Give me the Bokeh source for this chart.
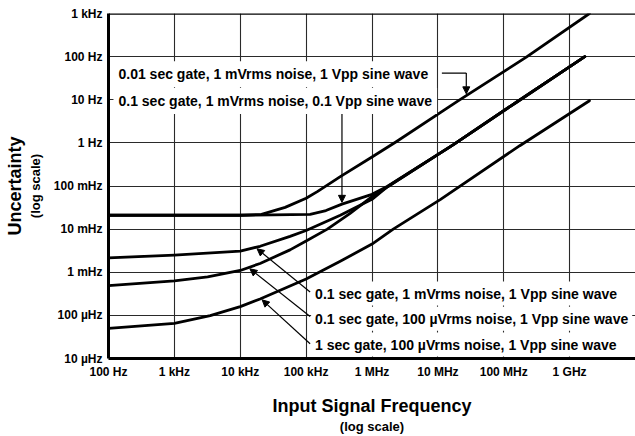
import numpy as np
from bokeh.plotting import figure
from bokeh.models import FixedTicker, Label, Arrow, NormalHead, Span, LogAxis
from bokeh.embed import file_html
from bokeh.resources import INLINE

# ---------------- data ----------------
freq_ticks = [1e2, 1e3, 1e4, 1e5, 1e6, 1e7, 1e8, 1e9]
freq_labels = ["100 Hz", "1 kHz", "10 kHz", "100 kHz", "1 MHz", "10 MHz", "100 MHz", "1 GHz"]
unc_ticks = [1e-5, 1e-4, 1e-3, 1e-2, 1e-1, 1e0, 1e1, 1e2, 1e3]
unc_labels = ["10 \u00b5Hz", "100 \u00b5Hz", "1 mHz", "10 mHz", "100 mHz", "1 Hz", "10 Hz", "100 Hz", "1 kHz"]

# 0.01 sec gate, 1 mVrms noise, 1 Vpp sine wave
a_f = [1e2, 1e3, 1e4, 2.1e4, 4.8e4, 1e5, 1.5e5, 3.3e5, 1e6, 2.3e6, 2e7, 2.2e8, 2e9]
a_u = [0.021, 0.021, 0.021, 0.022, 0.032, 0.052, 0.075, 0.165, 0.47, 1.05, 9.3, 97, 1000]
# 0.1 sec gate, 1 mVrms noise, 0.1 Vpp sine wave
b_f = [1e2, 1e3, 1e4, 1.15e5, 2e5, 3.5e5, 1e6, 1.7e6, 1.7e7, 1.6e8, 1.7e9]
b_u = [0.021, 0.021, 0.021, 0.022, 0.027, 0.038, 0.064, 0.098, 0.9, 9, 100]
# 0.1 sec gate, 1 mVrms noise, 1 Vpp sine wave
c_f = [1e2, 1e3, 1e4, 2e4, 5.7e4, 1e5, 3.3e5, 1e6, 1.7e6, 1.7e7, 1.6e8, 1.7e9]
c_u = [0.00215, 0.0025, 0.0031, 0.004, 0.0068, 0.0093, 0.021, 0.049, 0.095, 0.9, 9, 100]
# 0.1 sec gate, 100 uVrms noise, 1 Vpp sine wave
d_f = [1e2, 1e3, 3.2e3, 1e4, 2e4, 5.7e4, 1e5, 2.1e5, 4.6e5, 1e6, 1.7e6, 1.7e7, 1.6e8, 1.7e9]
d_u = [4.9e-4, 6.3e-4, 7.8e-4, 1.1e-3, 1.6e-3, 3.3e-3, 5.3e-3, 0.01, 0.023, 0.057, 0.095, 0.9, 9, 100]
# 1 sec gate, 100 uVrms noise, 1 Vpp sine wave
e_f = [1e2, 1e3, 3.5e3, 1e4, 2e4, 1e5, 3.3e5, 1e6, 2.1e6, 1.1e7, 1.75e8, 2e9]
e_u = [5e-5, 6.5e-5, 9.9e-5, 1.6e-4, 2.4e-4, 7e-4, 1.8e-3, 4.5e-3, 0.01, 0.049, 0.86, 9.5]

label_a = "0.01 sec gate, 1 mVrms noise, 1 Vpp sine wave"
label_b = "0.1 sec gate, 1 mVrms noise, 0.1 Vpp sine wave"
label_c = "0.1 sec gate, 1 mVrms noise, 1 Vpp sine wave"
label_d = "0.1 sec gate, 100 \u00b5Vrms noise, 1 Vpp sine wave"
label_e = "1 sec gate, 100 \u00b5Vrms noise, 1 Vpp sine wave"

FONT = "Liberation Sans"
x_lo, x_hi = 1e2, 1e10
y_lo, y_hi = 1e-5, 1e3

p = figure(width=635, height=436, x_axis_type="log", y_axis_type="log",
           x_range=(x_lo, x_hi), y_range=(y_lo, y_hi),
           output_backend="svg", toolbar_location=None,
           min_border_left=108, min_border_right=0, min_border_top=13, min_border_bottom=76)
p.outline_line_color = None
p.background_fill_color = "white"
p.border_fill_color = "white"


def style_title(ax, text, size, standoff):
    ax.axis_label = text
    ax.axis_label_text_font = FONT
    ax.axis_label_text_font_style = "bold"
    ax.axis_label_text_font_size = size
    ax.axis_label_text_color = "black"
    ax.axis_label_standoff = standoff


for ax, ticks, labels in ((p.xaxis[0], freq_ticks, freq_labels), (p.yaxis[0], unc_ticks, unc_labels)):
    ax.ticker = FixedTicker(ticks=ticks)
    ax.major_label_overrides = {t: l for t, l in zip(ticks, labels)}
    ax.major_tick_in = 0
    ax.major_tick_out = 0
    ax.minor_tick_in = 0
    ax.minor_tick_out = 0
    ax.axis_line_width = 3
    ax.axis_line_color = "black"
    ax.major_label_text_font = FONT
    ax.major_label_text_font_style = "bold"
    ax.major_label_text_font_size = "12px"
    ax.major_label_text_color = "black"
    ax.major_label_standoff = 6

style_title(p.xaxis[0], "Input Signal Frequency", "18px", 14)
style_title(p.yaxis[0], "(log scale)", "13px", 8)

outer_x = LogAxis(ticker=FixedTicker(ticks=[]), axis_line_color=None, major_tick_in=0, major_tick_out=0,
                  minor_tick_in=0, minor_tick_out=0, major_label_standoff=0)
style_title(outer_x, "(log scale)", "13px", 0)
p.add_layout(outer_x, "below")

outer_y = LogAxis(ticker=FixedTicker(ticks=[]), axis_line_color=None, major_tick_in=0, major_tick_out=0,
                  minor_tick_in=0, minor_tick_out=0, major_label_standoff=0)
style_title(outer_y, "Uncertainty", "18px", 0)
p.add_layout(outer_y, "left")

p.xgrid.ticker = FixedTicker(ticks=freq_ticks + [1e10])
p.ygrid.ticker = FixedTicker(ticks=unc_ticks)
for g in (p.xgrid[0], p.ygrid[0]):
    g.grid_line_color = "#2a2a2a"
    g.grid_line_width = 1.1
    g.minor_grid_line_color = None

p.add_layout(Span(location=y_hi, dimension="width", line_color="black", line_width=2.5))

for fs, us in ((e_f, e_u), (d_f, d_u), (c_f, c_u), (b_f, b_u), (a_f, a_u)):
    p.line(fs, us, line_color="black", line_width=2.8, line_join="round", line_cap="round")


def on_curve(fs, us, f):
    return 10 ** np.interp(np.log10(f), np.log10(fs), np.log10(us))


def head():
    return NormalHead(size=7, line_color="black", fill_color="black", line_width=1)


# leaders for the upper labels
tip_a_f = 2.7e7
p.line([1.15e7, tip_a_f], [41.5, 41.5], line_color="black", line_width=1.2)
p.add_layout(Arrow(end=head(), x_start=tip_a_f, y_start=41.5, x_end=tip_a_f,
                   y_end=on_curve(a_f, a_u, tip_a_f) * 1.1, line_color="black", line_width=1.2))
tip_b_f = 3.5e5
p.add_layout(Arrow(end=head(), x_start=tip_b_f, y_start=5.0, x_end=tip_b_f,
                   y_end=on_curve(b_f, b_u, tip_b_f) * 1.1, line_color="black", line_width=1.2))

# leaders for the lower labels
for fs, us, tip_f, tail_u in ((c_f, c_u, 1.8e4, 3.5e-4), (d_f, d_u, 1.4e4, 9.4e-5), (e_f, e_u, 2.15e4, 2.2e-5)):
    p.add_layout(Arrow(end=head(), x_start=1.15e5, y_start=tail_u, x_end=tip_f,
                       y_end=on_curve(fs, us, tip_f) / 1.1, line_color="black", line_width=1.2))


def lab(x, y, text, size="14px", bg="white", pad=5):
    p.add_layout(Label(x=x, y=y, text=text, text_font=FONT, text_font_style="bold",
                       text_font_size=size, text_color="black", text_align="left",
                       text_baseline="middle", background_fill_color=bg, padding=pad))


lab(119, 39, label_a, pad=5)
lab(119, 9.4, label_b, pad=5)
lab(1.19e5, 3.2e-4, label_c, pad=4)
lab(1.19e5, 8.4e-5, label_d, pad=4)
lab(1.19e5, 2.1e-5, label_e, pad=4)

open("out.html", "w").write(file_html(p, INLINE))
